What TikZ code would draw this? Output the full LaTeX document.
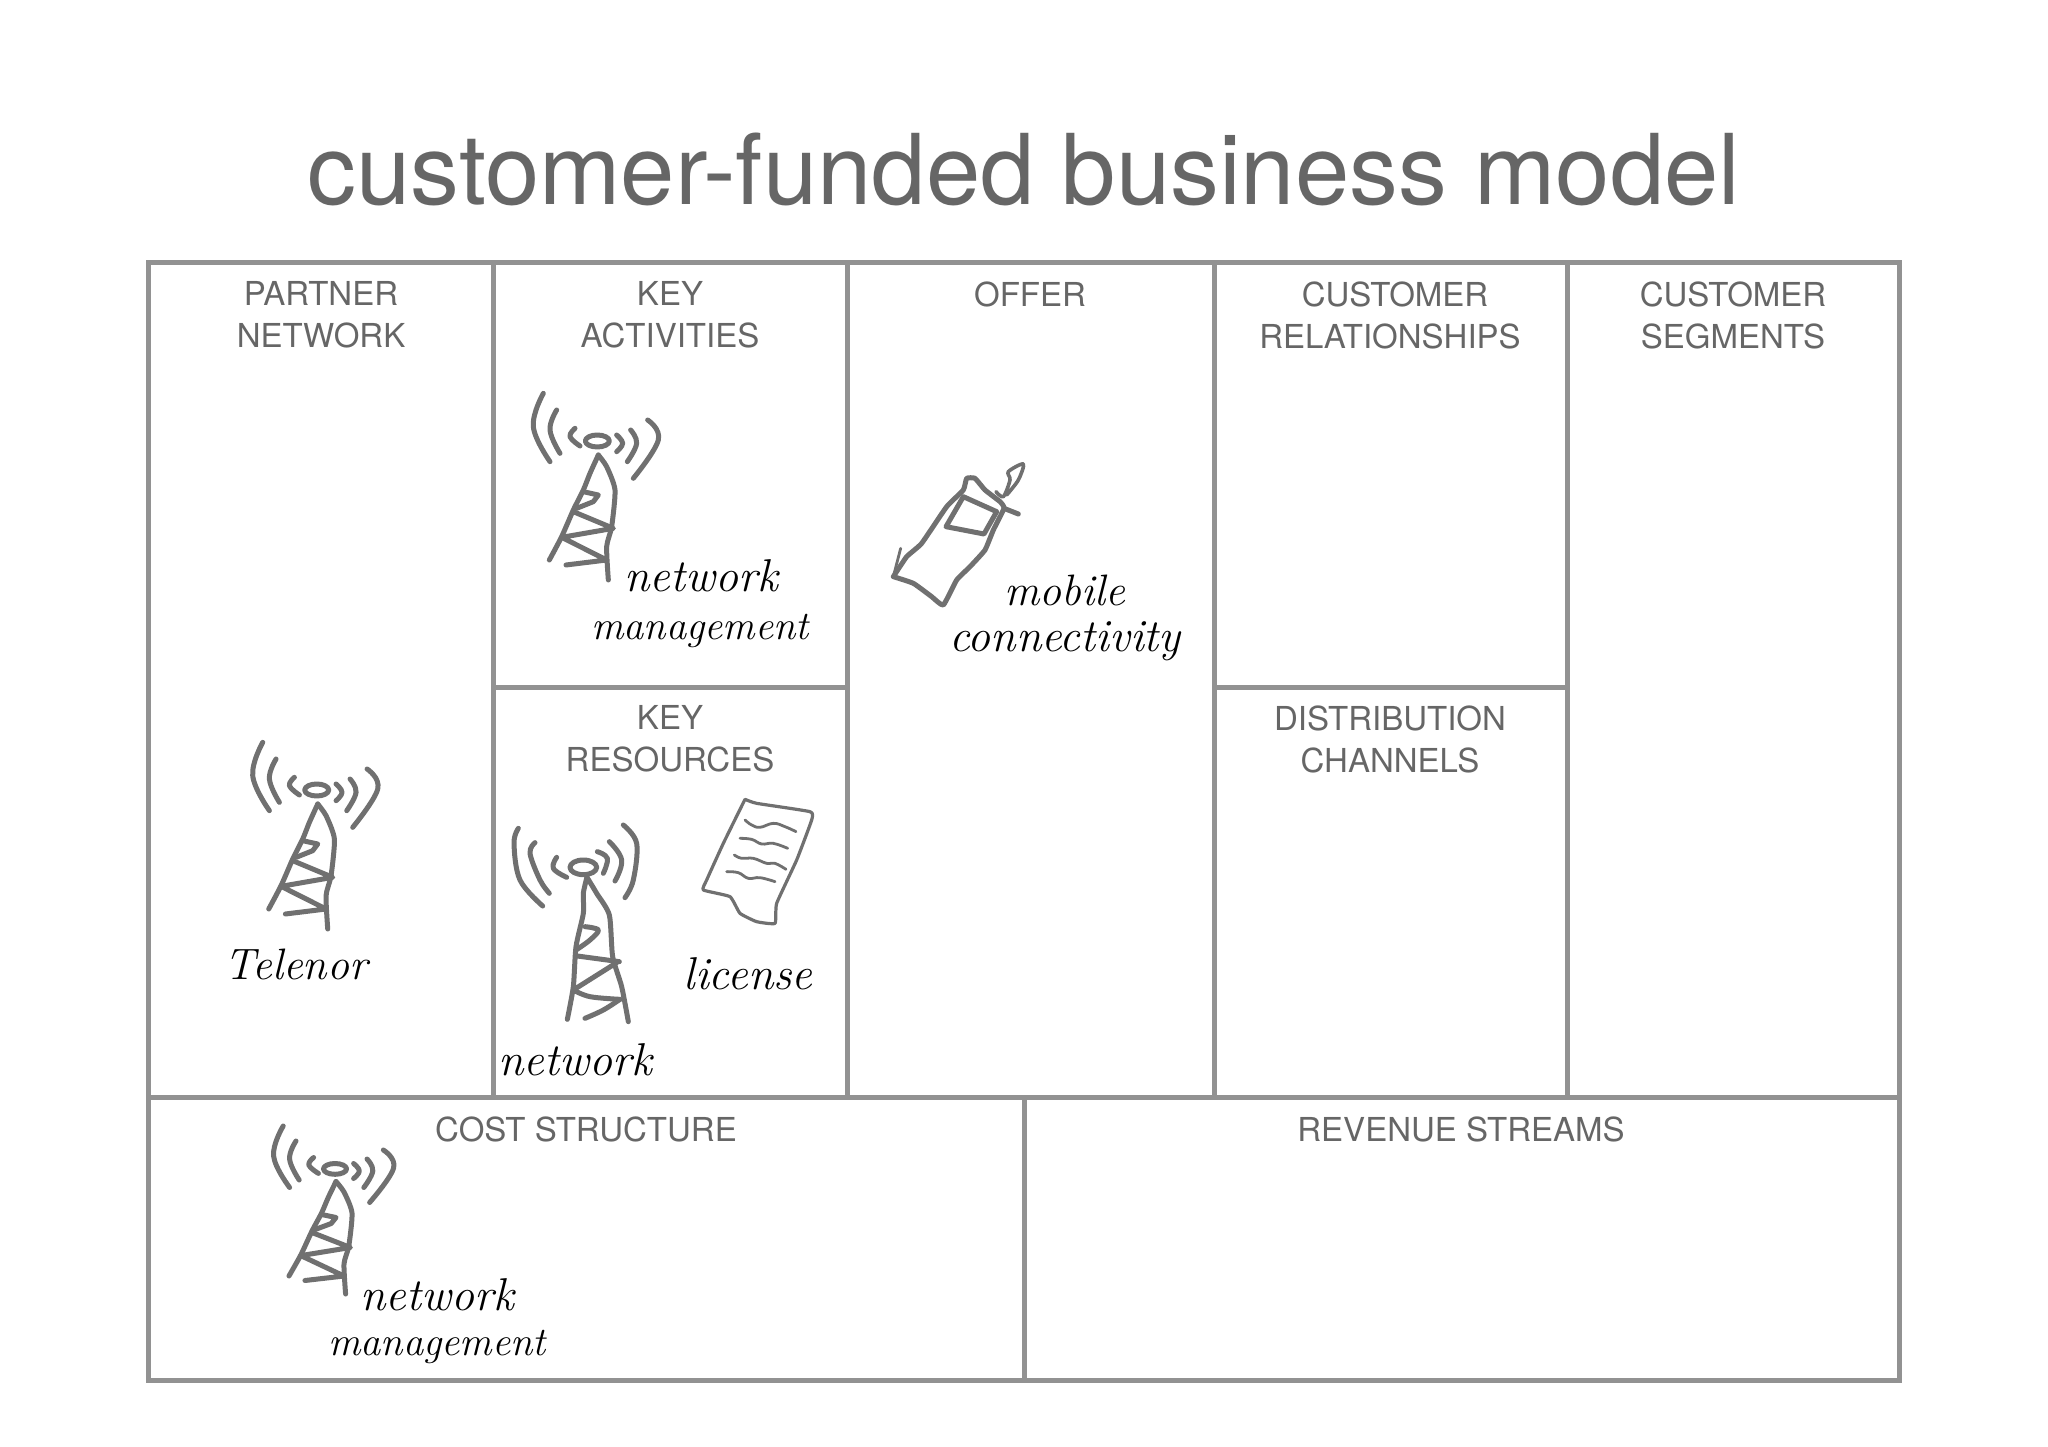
\documentclass[tikz,border=0pt]{standalone}
\usepackage{fontspec}
\setmainfont{TeX Gyre Heros}
\newfontfamily\handfont{Latin Modern Roman}
\definecolor{gridc}{HTML}{929292}
\definecolor{labc}{HTML}{666666}
\definecolor{sketchc}{HTML}{707070}
\tikzset{
  gridline/.style={draw=gridc,line width=5pt,line cap=rect},
  boxlabel/.style={text=labc,align=center,inner sep=0pt,font=\fontsize{33}{42}\selectfont},
  hand/.style={text=black,anchor=base,inner sep=0pt,font=\handfont\itshape\fontsize{46}{50}\selectfont},
  handmid/.style={hand,font=\handfont\itshape\fontsize{44}{50}\selectfont},
  handsmall/.style={hand,font=\handfont\itshape\fontsize{40.5}{50}\selectfont},
  sk/.style={draw=sketchc,line width=5pt,line cap=round,line join=round},
  skthin/.style={draw=sketchc,line width=2.8pt,line cap=round,line join=round}
}
\newcommand{\mytower}{%
  \draw[sk] plot[smooth,tension=.7] coordinates{(160,400)(130,500)(180,605)};
  \draw[sk] plot[smooth,tension=.7] coordinates{(200,450)(180,510)(210,580)};
  \draw[sk] plot[smooth,tension=.7] coordinates{(255,505)(240,530)(270,558)};
  \draw[sk] (322,543) ellipse[x radius=36,y radius=18];
  \draw[sk] plot[smooth,tension=.7] coordinates{(380,525)(398,550)(380,575)};
  \draw[sk] plot[smooth,tension=.7] coordinates{(422,510)(440,550)(412,605)};
  \draw[sk] plot[smooth,tension=.7] coordinates{(473,480)(505,540)(430,655)};
  \draw[sk] plot[smooth,tension=.4] coordinates{(325,585)(300,640)(280,690)(250,750)(215,830)(178,900)};
  \draw[sk] plot[smooth,tension=.4] coordinates{(325,585)(350,620)(375,690)(365,800)(350,860)(355,960)};
  \draw[sk] (280,695) -- (325,705) -- (310,725) -- (260,745);
  \draw[sk] (250,755) -- (370,805) -- (215,832) -- (350,900) -- (228,915);
}
\begin{document}
\begin{tikzpicture}[x=1pt,y=-1pt]
\useasboundingbox (0,0) rectangle (2048,1447);
\fill[white] (0,0) rectangle (2048,1447);
% grid
\draw[gridline] (148,263) rectangle (1899,1380.5);
\draw[gridline] (148,1097.5) -- (1899,1097.5);
\draw[gridline] (493,263) -- (493,1097.5);
\draw[gridline] (847,263) -- (847,1097.5);
\draw[gridline] (1214,263) -- (1214,1097.5);
\draw[gridline] (1567,263) -- (1567,1097.5);
\draw[gridline] (493,687) -- (847,687);
\draw[gridline] (1214,687) -- (1567,687);
\draw[gridline] (1024,1097.5) -- (1024,1380.5);
% title
\node[text=labc,inner sep=0pt,font=\fontsize{97.7}{100}\selectfont] (title) at (1024,169) {customer-funded business model};
% labels
\node[boxlabel] (partner) at (321,315) {PARTNER\\NETWORK};
\node[boxlabel] (activities) at (670,315) {KEY\\ACTIVITIES};
\node[boxlabel] (offer) at (1030,294) {OFFER};
\node[boxlabel] (relationships) at (1390,315) {\hspace*{10pt}CUSTOMER\\RELATIONSHIPS};
\node[boxlabel] (segments) at (1733,315) {CUSTOMER\\SEGMENTS};
\node[boxlabel] (resources) at (670,739) {KEY\\RESOURCES};
\node[boxlabel] (channels) at (1390,739) {DISTRIBUTION\\CHANNELS};
\node[boxlabel] (cost) at (586,1129.5) {COST STRUCTURE};
\node[boxlabel] (revenue) at (1461,1129.5) {REVENUE STREAMS};
% towers
\begin{scope}[shift={(490,260)},scale=1/3]\mytower\end{scope}
\begin{scope}[shift={(209.4,609)},scale=1/3]\mytower\end{scope}
\begin{scope}[shift={(232,1006)},xscale=.32,yscale=.30]\mytower\end{scope}
% tower in key resources
\begin{scope}[shift={(490,780)},scale=1/3]
  \draw[sk] plot[smooth,tension=.6] coordinates{(85,145)(72,190)(90,300)(158,378)};
  \draw[sk] plot[smooth,tension=.6] coordinates{(135,188)(120,220)(150,300)(178,340)};
  \draw[sk] plot[smooth,tension=.7] coordinates{(200,232)(190,265)(230,292)};
  \draw[sk] (280,262) ellipse[x radius=40,y radius=22];
  \draw[sk] plot[smooth,tension=.7] coordinates{(322,215)(352,235)(340,280)};
  \draw[sk] plot[smooth,tension=.7] coordinates{(358,185)(395,240)(375,303)};
  \draw[sk] plot[smooth,tension=.6] coordinates{(400,135)(440,190)(430,300)(405,353)};
  \draw[sk] plot[smooth,tension=.4] coordinates{(290,290)(320,340)(358,405)(368,530)(395,620)(415,725)};
  \draw[sk] plot[smooth,tension=.4] coordinates{(290,295)(280,340)(280,400)(258,500)(250,620)(232,718)};
  \draw[sk] plot[smooth,tension=.6] coordinates{(285,440)(325,450)(300,480)(258,510)};
  \draw[sk] (262,528) -- (388,545);
  \draw[sk] (380,548) -- (250,630);
  \draw[sk] plot[smooth,tension=.6] coordinates{(250,630)(300,650)(390,658)};
  \draw[sk] plot[smooth,tension=.6] coordinates{(390,658)(340,690)(285,715)};
  % licence sheet
  \draw[skthin,line width=3.2pt] plot[smooth,tension=.25] coordinates{(765,58)(800,70)(960,95)(965,120)(920,240)(860,370)(855,430)(800,425)(750,400)(720,350)(640,330)(650,300)(700,190)(765,58)};
  \draw[skthin] plot[smooth,tension=.7] coordinates{(765,120)(785,135)(810,142)(850,130)(885,140)(918,155)};
  \draw[skthin] plot[smooth,tension=.7] coordinates{(750,175)(785,178)(815,192)(850,190)(893,205)};
  \draw[skthin] plot[smooth,tension=.7] coordinates{(733,225)(755,235)(790,235)(830,250)(855,250)(888,268)};
  \draw[skthin] plot[smooth,tension=.7] coordinates{(710,275)(745,278)(775,295)(810,293)(855,305)};
\end{scope}
% mobile phone
\begin{scope}[shift={(860,440)},scale=1/3]
  \draw[sk] plot[smooth,tension=.25] coordinates{(100,410)(140,350)(185,310)(260,200)(310,150)(320,115)(345,115)(375,150)(420,185)(432,205)(400,270)(375,330)(330,380)(290,420)(250,495)(215,470)(160,430)(100,410)};
  \draw[sk] (432,205) -- (475,222);
  \draw[skthin] (100,410) -- (122,325);
  \draw[sk] (310,170) -- (410,215) -- (372,282) -- (258,260) -- cycle;
  \draw[skthin,line width=3.6pt] plot[smooth,tension=.5] coordinates{(408,155)(430,170)(450,120)(445,95)(490,72)(475,120)(440,165)};
\end{scope}
% handwriting
\node[hand] (kanet) at (701,591) {network};
\node[handsmall] (kaman) at (700,639) {management};
\node[handmid] (tel) at (296,979) {Telenor};
\node[hand] (krnet) at (575,1075) {network};
\node[hand] (lic) at (748,989) {license};
\node[handmid] (mob) at (1065,605) {mobile};
\node[hand] (con) at (1065,651) {connectivity};
\node[hand] (csnet) at (437,1310) {network};
\node[handsmall] (csman) at (437,1355) {management};
\end{tikzpicture}
\end{document}
